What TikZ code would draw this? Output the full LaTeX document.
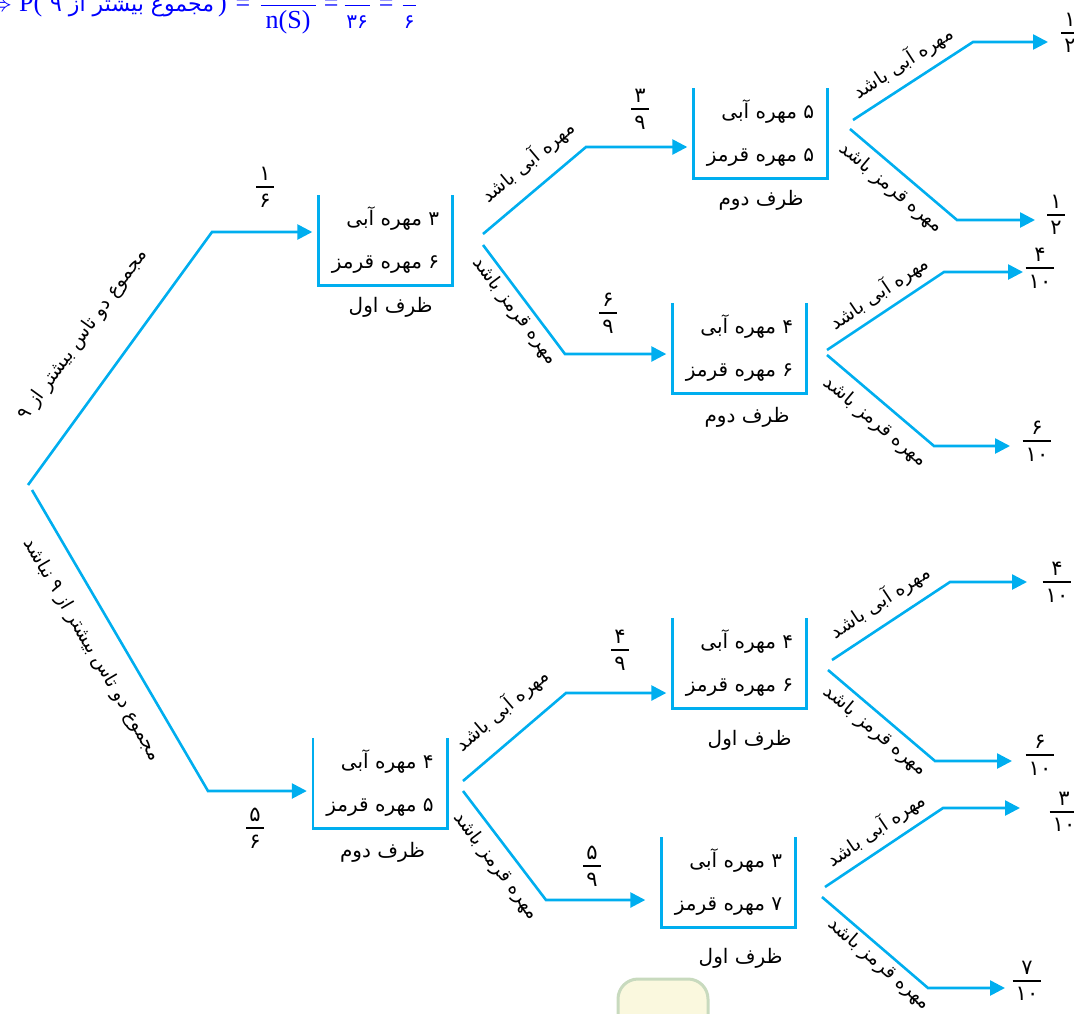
\documentclass[tikz,border=0pt]{standalone}
\usepackage{fontspec}
\setmainfont{Liberation Serif}
\newfontfamily\pfont[Script=Arabic]{DejaVu Sans}
\TeXXeTstate=1
\usetikzlibrary{arrows.meta,positioning}
\definecolor{cyanline}{RGB}{0,174,239}
\definecolor{tabfill}{RGB}{250,248,222}
\definecolor{tabedge}{RGB}{200,218,190}
\newcommand{\kasr}[2]{\vbox{\offinterlineskip\halign{\hfil\kern3pt##\kern3pt\hfil\cr#1\cr\noalign{\kern6pt\hrule height 1.3pt\kern6pt}#2\cr}}}
\newcommand{\fa}[1]{\beginR #1\endR}
\newcommand{\blankfrac}[2]{$\displaystyle\frac{\hbox to #1{}}{\mbox{#2}}$}

\begin{document}
\begin{tikzpicture}[x=1pt, y=-1pt,
    branch/.style = {draw=cyanline, line width=2.6pt},
    arrow/.style = {branch, -{Triangle[length=15pt,width=15pt]}},
    urn/.style = {minimum width=134pt, minimum height=90pt, inner sep=0pt, align=right,
                  font=\pfont\fontsize{20}{43}\selectfont},
    urnname/.style = {inner sep=0pt, font=\pfont\fontsize{20}{22}\selectfont},
    tag/.style = {inner sep=0pt, font=\pfont\fontsize{19}{21}\selectfont},
    prob/.style = {inner sep=0pt, font=\pfont\fontsize{21}{24}\selectfont}
  ]
\useasboundingbox (0,0) rectangle (1074,1013);

% formula line, cut at the top
\node[anchor=base west, inner sep=0pt, text=blue, font=\fontsize{26}{30}\selectfont] (pf) at (-13,11)
  {$\Rightarrow$\hspace{7pt}P(\hspace{8pt}{\pfont\fontsize{22}{26}\selectfont\fa{مجموع بیشتر از ۹}}\hspace{4pt})\hspace{9pt}=\hspace{9pt}\blankfrac{55pt}{n(S)}\hspace{7pt}=\hspace{5pt}\blankfrac{25pt}{\pfont\fontsize{20}{24}\selectfont ۳۶}\hspace{8pt}=\hspace{8pt}\blankfrac{13pt}{\pfont\fontsize{20}{24}\selectfont ۶}};

% urns
\node[urn] (b1) at (385.5,240.5) {\fa{۳ مهره آبی}\\\fa{۶ مهره قرمز}};
\node[urn] (b2) at (760.5,133.5) {\fa{۵ مهره آبی}\\\fa{۵ مهره قرمز}};
\node[urn] (b3) at (739.5,348) {\fa{۴ مهره آبی}\\\fa{۶ مهره قرمز}};
\node[urn] (b4) at (380,783) {\fa{۴ مهره آبی}\\\fa{۵ مهره قرمز}};
\node[urn] (b5) at (739.5,663) {\fa{۴ مهره آبی}\\\fa{۶ مهره قرمز}};
\node[urn] (b6) at (728.5,882.5) {\fa{۳ مهره آبی}\\\fa{۷ مهره قرمز}};
\foreach \b in {b1,b2,b3,b4,b5,b6}
  \draw[branch] (\b.north west) |- (\b.south east) -- (\b.north east);

\node[urnname, below left=11pt and 20pt of b1.south east] (n1) {\fa{ظرف اول}};
\node[urnname, below left=11pt and 24pt of b2.south east] (n2) {\fa{ظرف دوم}};
\node[urnname, below left=14pt and 17pt of b3.south east] (n3) {\fa{ظرف دوم}};
\node[urnname, below left=14pt and 22pt of b4.south east] (n4) {\fa{ظرف دوم}};
\node[urnname, below left=22pt and 15pt of b5.south east] (n5) {\fa{ظرف اول}};
\node[urnname, below left=20pt and 13pt of b6.south east] (n6) {\fa{ظرف اول}};

% branch points
\coordinate (r1) at (28,485);
\coordinate (r2) at (32,490);
\coordinate (k0u) at (212,232);
\coordinate (k0d) at (208,791);
\coordinate (s1u) at (483,234);  \coordinate (k1u) at (586,147);
\coordinate (s1d) at (483,245);  \coordinate (k1d) at (565,354);
\coordinate (s4u) at (463,781);  \coordinate (k4u) at (566,693);
\coordinate (s4d) at (463,791);  \coordinate (k4d) at (546,900);
\coordinate (s2u) at (853,120);  \coordinate (k2u) at (973,42);   \coordinate (e2u) at (1048,42);
\coordinate (s2d) at (850,129);  \coordinate (k2d) at (957,220);  \coordinate (e2d) at (1035,220);
\coordinate (s3u) at (827,350);  \coordinate (k3u) at (944,272);  \coordinate (e3u) at (1023,272);
\coordinate (s3d) at (827,355);  \coordinate (k3d) at (934,446);  \coordinate (e3d) at (1010,446);
\coordinate (s5u) at (832,660);  \coordinate (k5u) at (950,582);  \coordinate (e5u) at (1027,582);
\coordinate (s5d) at (828,670);  \coordinate (k5d) at (935,761);  \coordinate (e5d) at (1012,761);
\coordinate (s6u) at (825,887);  \coordinate (k6u) at (943,808);  \coordinate (e6u) at (1020,808);
\coordinate (s6d) at (822,897);  \coordinate (k6d) at (928,988);  \coordinate (e6d) at (1005,988);

\draw[arrow, shorten >=6pt] (r1) -- (k0u) -- (k0u -| b1.west);
\draw[arrow, shorten >=6pt] (r2) -- (k0d) -- (k0d -| b4.west);
\draw[arrow, shorten >=6pt] (s1u) -- (k1u) -- (k1u -| b2.west);
\draw[arrow, shorten >=6pt] (s1d) -- (k1d) -- (k1d -| b3.west);
\draw[arrow, shorten >=6pt] (s4u) -- (k4u) -- (k4u -| b5.west);
\draw[arrow, shorten >=16pt] (s4d) -- (k4d) -- (k4d -| b6.west);
\foreach \i in {2,3,5,6} {
  \draw[arrow] (s\i u) -- (k\i u) -- (e\i u);
  \draw[arrow] (s\i d) -- (k\i d) -- (e\i d);
}

% branch labels
\node[tag, rotate=54] (l0u) at (83,335) {\fa{مجموع دو تاس بیشتر از ۹}};
\node[tag, rotate=-59.6] (l0d) at (92,650) {\fa{مجموع دو تاس بیشتر از ۹ نباشد}};
\node[tag, rotate=40] (l1u) at (528,162) {\fa{مهره آبی باشد}};
\node[tag, rotate=-53] (l1d) at (515,311) {\fa{مهره قرمز باشد}};
\node[tag, rotate=33] (l2u) at (903,63) {\fa{مهره آبی باشد}};
\node[tag, rotate=-40] (l2d) at (891,188) {\fa{مهره قرمز باشد}};
\node[tag, rotate=34] (l3u) at (879,293) {\fa{مهره آبی باشد}};
\node[tag, rotate=-40] (l3d) at (875,422) {\fa{مهره قرمز باشد}};
\node[tag, rotate=40.5] (l4u) at (502,710) {\fa{مهره آبی باشد}};
\node[tag, rotate=-53] (l4d) at (496,866) {\fa{مهره قرمز باشد}};
\node[tag, rotate=33.5] (l5u) at (880,602) {\fa{مهره آبی باشد}};
\node[tag, rotate=-40] (l5d) at (875,731) {\fa{مهره قرمز باشد}};
\node[tag, rotate=34] (l6u) at (876,830) {\fa{مهره آبی باشد}};
\node[tag, rotate=-41] (l6d) at (879,964) {\fa{مهره قرمز باشد}};

% probabilities
\node[prob] (f0u) at (265,187) {\kasr{۱}{۶}};
\node[prob] (f0d) at (255,828) {\kasr{۵}{۶}};
\node[prob] (f1u) at (640,109) {\kasr{۳}{۹}};
\node[prob] (f1d) at (608,313) {\kasr{۶}{۹}};
\node[prob] (f4u) at (620,650) {\kasr{۴}{۹}};
\node[prob] (f4d) at (592,866) {\kasr{۵}{۹}};
\node[prob] (f2u) at (1070,33) {\kasr{۱}{۲}};
\node[prob] (f2d) at (1056,215) {\kasr{۱}{۲}};
\node[prob] (f3u) at (1040,268) {\kasr{۴}{۱۰}};
\node[prob] (f3d) at (1037,441) {\kasr{۶}{۱۰}};
\node[prob] (f5u) at (1057,582) {\kasr{۴}{۱۰}};
\node[prob] (f5d) at (1040,755) {\kasr{۶}{۱۰}};
\node[prob] (f6u) at (1064,812) {\kasr{۳}{۱۰}};
\node[prob] (f6d) at (1027,981) {\kasr{۷}{۱۰}};

\node[draw=tabedge, fill=tabfill, line width=3pt, rounded corners=20pt,
      minimum width=90pt, minimum height=80pt] (tab) at (663,1019) {};
\end{tikzpicture}
\end{document}
